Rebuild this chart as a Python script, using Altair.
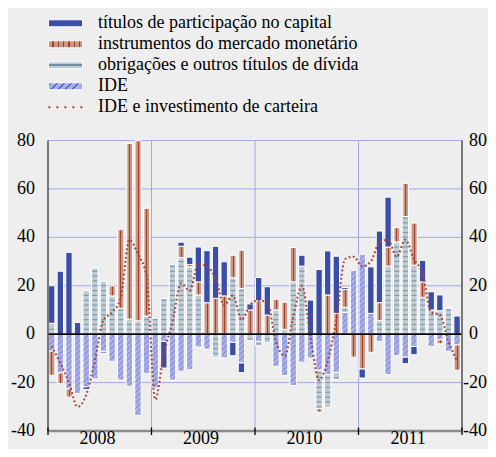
import math
import altair as alt
import numpy as np
import pandas as pd

# ---------------- data ----------------
years = ["2008", "2009", "2010", "2011"]
series_labels = [
    "títulos de participação no capital",
    "instrumentos do mercado monetário",
    "obrigações e outros títulos de dívida",
    "IDE",
    "IDE e investimento de carteira",
]
series_keys = ["equity", "mm", "bonds", "ide", "line"]

equity = [
    15.5, 26.0, 33.8, 4.8, -1.1, 0, -0.7, 0, 0, 0, 0, 0,
    0, -11.0, 0, 1.7, 3.0, 14.4, 21.5, 21.5, 14.1, -5.5, -4.0, 2.5,
    9.6, 11.7, 0, 0, 0, 4.5, 14.1, 26.7, 18.2, 23.6, 0.8, 0,
    -3.7, 19.2, 29.6, 20.6, 0, -2.7, -3.4, 8.9, 7.5, 6.5, 0, 7.5,
]
mm = [
    -10.0, -4.4, -3.4, 0, 0, 0, 0, 4.1, 32.5, 72.6, 74.4, 44.5,
    0, 0, 0, 4.7, 1.0, 5.4, 13.0, 14.8, 15.8, 9.3, 15.8, 10.0,
    13.8, 7.9, 4.4, 11.2, 14.2, 0, 0, -1.4, 16.2, 8.6, 7.4, -9.5,
    -14.4, -7.5, 7.4, 7.9, 5.9, 13.7, 17.4, 6.4, 0, -1.7, 0, -10.5,
]
bonds = [
    4.5, 0, 0, 0, 18.0, 27.3, 21.9, 15.8, 10.7, 6.2, 5.5, 7.5,
    6.6, 14.8, 28.9, 31.6, 27.8, 16.2, 0, -9.5, 0, 23.3, 18.9, -2.6,
    -1.8, -3.5, 10.0, 2.0, 21.6, 28.1, 0, -15.9, -13.7, -3.0, 2.1, 0,
    0, 0, 5.6, 28.1, 38.1, 48.6, 28.5, 15.2, 10.0, 9.7, 10.7, 0,
]
ide = [
    -7.0, -16.0, -22.6, -24.5, -21.8, -18.5, -7.1, -11.2, -19.0, -21.5, -33.6, -16.3,
    -22.2, -3.0, -19.0, -15.3, -14.7, -5.3, -6.2, 0, -9.8, -3.4, -11.9, 0,
    -3.0, 0, -13.3, -17.1, -21.2, -11.6, -9.9, -14.9, -16.7, -15.8, 9.0, 26.4,
    33.0, 8.6, -3.0, -16.7, -8.9, -9.5, -5.1, 0, -5.1, -2.3, -7.1, -4.4,
]
ide_portfolio = [
    -5, -12, -20, -30, -25, -11, 6, 9, 15, 39, 33, 24,
    -27, -8, 5, 21, 18, 29, 28, 23, 12, 16, 6, 12,
    14, 13, -3, -9, 7, 20, -1, -19, -11, 6, 31, 32,
    28, 30, 38, 39, 32, 39, 31, 25, 9, 8, -3, -11,
]
y_ticks = [-40, -20, 0, 20, 40, 60, 80]

# ---------------- styling / layout ----------------
FONT = "Liberation Serif"
FS = 18
BG = "#eeeeee"
GRID = "#a4a9e2"
C_EQ = "#3a4ea6"
C_MM = "#c99684"
C_MM_LIGHT = "#dcb9ab"
C_MM_LINE = "#a3412f"
C_BD = "#bfccd4"
C_BD_LINE = "#7f9bac"
C_IDE = "#a9aee6"
C_IDE_LINE = "#5262c4"
C_DOT = "#a4433b"

CW, CH = 480, 441                 # whole drawing (page minus its 8px margin)
PLOT_L, PLOT_R = 40.0, 454.0       # plot area in drawing pixels
PLOT_T, PLOT_B = 132.5, 423.0
N = len(equity)
YMIN, YMAX = y_ticks[0], y_ticks[-1]
px_x = (PLOT_R - PLOT_L) / N
px_y = (PLOT_B - PLOT_T) / (YMAX - YMIN)
xsc = alt.Scale(domain=[-PLOT_L / px_x, N + (CW - PLOT_R) / px_x], nice=False, zero=False)
ysc = alt.Scale(domain=[YMIN - (CH - PLOT_B) / px_y, YMAX + PLOT_T / px_y], nice=False, zero=False)


def px2x(p):
    return (p - PLOT_L) / px_x


def px2y(p):
    return YMAX + (PLOT_T - p) / px_y


def X(f):
    return alt.X(f + ":Q", scale=xsc, axis=None)


def Y(f):
    return alt.Y(f + ":Q", scale=ysc, axis=None)


BAR_L, BAR_R = 0.06, 0.80

# ---------------- stacking (IDE, bonds, MM, equity from zero outwards) ----------------
values = {"ide": ide, "bonds": bonds, "mm": mm, "equity": equity}
rows = []
for i in range(N):
    pos = neg = 0.0
    for k in ["ide", "bonds", "mm", "equity"]:
        v = values[k][i]
        if v == 0:
            continue
        if v > 0:
            y0, y1 = pos, pos + v
            pos = y1
        else:
            y0, y1 = neg, neg + v
            neg = y1
        rows.append(dict(series=k, m=i, xa=i + BAR_L, xb=i + BAR_R, y0=y0, y1=y1))
seg = pd.DataFrame(rows)

# texture: horizontal stripes for bonds every 2 units
stripe_rows = []
for r in seg[seg.series == "bonds"].itertuples():
    lo, hi = min(r.y0, r.y1), max(r.y0, r.y1)
    s = math.floor(lo / 2.0) * 2.0 + 2.0
    while s < hi - 0.5:
        if s > lo + 0.5:
            stripe_rows.append(dict(xa=r.xa + 0.07, xb=r.xb - 0.07, ys=s))
        s += 2.0
stripes = pd.DataFrame(stripe_rows)

# texture: diagonal hatch for IDE
SLOPE = px_x / px_y
PER = 2.2
hatch_rows = []
for r in seg[seg.series == "ide"].itertuples():
    lo, hi = min(r.y0, r.y1) + 0.3, max(r.y0, r.y1) - 0.3
    xa, xb = r.xa + 0.07, r.xb - 0.07
    w = xb - xa
    c = math.floor((lo - SLOPE * w) / PER) * PER
    while c < hi:
        t0 = max(0.0, (lo - c) / SLOPE)
        t1 = min(w, (hi - c) / SLOPE)
        if t1 - t0 > 0.02:
            hatch_rows.append(dict(xa=xa + t0, xb=xa + t1, ya=c + SLOPE * t0, yb=c + SLOPE * t1))
        c += PER
hatch = pd.DataFrame(hatch_rows)

line_df = pd.DataFrame({"mx": np.arange(N) + (BAR_L + BAR_R) / 2, "v": ide_portfolio})

# ---------------- frame: grid, axis lines, ticks, labels ----------------
hgrid = pd.DataFrame({"y": [v for v in y_ticks if v not in (YMIN, 0)], "x0": 0, "x1": N})
vgrid = pd.DataFrame({"x": list(range(12, N, 12)), "y0": YMIN, "y1": YMAX})
vaxes = pd.DataFrame({"x": [0, N], "y0": YMIN, "y1": YMAX})
baxis = pd.DataFrame({"y": [YMIN], "x0": 0, "x1": N})
ticks = pd.DataFrame({"x": list(range(0, N + 1, 12)), "y0": px2y(PLOT_B - 3.5), "y1": px2y(PLOT_B + 4.0)})
left_lab = pd.DataFrame({"y": y_ticks, "t": [str(v) for v in y_ticks], "x": px2x(PLOT_L - 13)})
RL = CW - FS - 1.0                                  # left edge of the right-hand digits
right_pos = pd.DataFrame({"y": [v for v in y_ticks if v >= 0], "t": [str(v) for v in y_ticks if v >= 0],
                          "x": px2x(RL)})
right_neg = pd.DataFrame({"y": [v for v in y_ticks if v < 0], "t": [str(v) for v in y_ticks if v < 0],
                          "x": px2x(RL + FS)})
year_lab = pd.DataFrame({"x": [12 * k + 5.75 for k in range(len(years))], "t": years, "y": px2y(CH - 4.8)})

rule = lambda df, **kw: alt.Chart(df).mark_rule(**kw)

layers = [
    rule(hgrid, color=GRID, strokeWidth=1).encode(x=X("x0"), x2="x1:Q", y=Y("y")),
    rule(vgrid, color=GRID, strokeWidth=1).encode(x=X("x"), y=Y("y0"), y2="y1:Q"),
]


def rect_layer(key, **mark):
    return alt.Chart(seg[seg.series == key]).mark_rect(stroke="white", strokeWidth=1, **mark).encode(
        x=X("xa"), x2="xb:Q", y=Y("y0"), y2="y1:Q")


mm_fill = {
    "gradient": "linear", "x1": 0, "y1": 0, "x2": 1, "y2": 0,
    "stops": [
        {"offset": 0.0, "color": C_MM_LIGHT}, {"offset": 0.22, "color": C_MM_LIGHT},
        {"offset": 0.22, "color": C_MM}, {"offset": 0.45, "color": C_MM},
        {"offset": 0.45, "color": C_MM_LINE}, {"offset": 0.62, "color": C_MM_LINE},
        {"offset": 0.62, "color": C_MM}, {"offset": 1.0, "color": C_MM},
    ],
}

layers += [
    rect_layer("ide", fill=C_IDE),
    alt.Chart(hatch).mark_rule(color=C_IDE_LINE, strokeWidth=0.8, opacity=0.75).encode(
        x=X("xa"), x2="xb:Q", y=Y("ya"), y2="yb:Q"),
    rect_layer("bonds", fill=C_BD),
    alt.Chart(stripes).mark_rule(color=C_BD_LINE, strokeWidth=1.2).encode(x=X("xa"), x2="xb:Q", y=Y("ys")),
    rect_layer("mm", fill=mm_fill),
    rect_layer("equity", fill=C_EQ),
    alt.Chart(line_df).mark_line(color=C_DOT, strokeWidth=2.1, strokeDash=[1.8, 2.4], interpolate="monotone").encode(
        x=X("mx"), y=Y("v")),
    rule(pd.DataFrame({"y": [0], "x0": 0, "x1": N}), color="black", strokeWidth=1.6).encode(
        x=X("x0"), x2="x1:Q", y=Y("y")),
    rule(vaxes, color="#5a5a5a", strokeWidth=1.6).encode(x=X("x"), y=Y("y0"), y2="y1:Q"),
    rule(baxis, color="#8c8c8c", strokeWidth=2.5).encode(x=X("x0"), x2="x1:Q", y=Y("y")),
    rule(ticks, color="black", strokeWidth=1.3).encode(x=X("x"), y=Y("y0"), y2="y1:Q"),
    alt.Chart(left_lab).mark_text(align="right", baseline="middle", font=FONT, fontSize=FS, color="black").encode(
        x=X("x"), y=Y("y"), text="t:N"),
    alt.Chart(right_pos).mark_text(align="left", baseline="middle", font=FONT, fontSize=FS, color="black").encode(
        x=X("x"), y=Y("y"), text="t:N"),
    alt.Chart(right_neg).mark_text(align="right", baseline="middle", font=FONT, fontSize=FS, color="black").encode(
        x=X("x"), y=Y("y"), text="t:N"),
    alt.Chart(year_lab).mark_text(align="center", baseline="alphabetic", font=FONT, fontSize=FS, color="black").encode(
        x=X("x"), y=Y("y"), text="t:N"),
]

# ---------------- legend ----------------
ROW0, ROWSTEP = 15.3, 21.0            # drawing pixels of the first row centre and row spacing
SW_L, SW_R, SW_H = PLOT_L + 0.4, PLOT_L + 34.6, 7.0
TXT_L = PLOT_L + 50
leg_rows = []
for j, (lab, key) in enumerate(zip(series_labels, series_keys)):
    yc = ROW0 + ROWSTEP * j
    leg_rows.append(dict(label=lab, key=key, yc=px2y(yc), ya=px2y(yc - SW_H / 2), yb=px2y(yc + SW_H / 2),
                         xa=px2x(SW_L), xb=px2x(SW_R), xt=px2x(TXT_L)))
leg = pd.DataFrame(leg_rows)

k_ide = SW_H / (SW_R - SW_L)
per_t = k_ide / (1 + k_ide ** 2)
ide_stops = [{"offset": 0, "color": C_IDE}]
t = 0.05
while t < 0.96:
    ide_stops += [{"offset": t, "color": C_IDE}, {"offset": t, "color": C_IDE_LINE},
                  {"offset": t + 0.035, "color": C_IDE_LINE}, {"offset": t + 0.035, "color": C_IDE}]
    t += per_t
ide_stops.append({"offset": 1, "color": C_IDE})
ide_leg_fill = {"gradient": "linear", "x1": 0, "y1": 0, "x2": 1, "y2": k_ide, "stops": ide_stops}
mm_stops = [{"offset": 0, "color": C_MM}]
for j in range(6):
    c0 = (4.0 + 5.3 * j) / 34.0
    mm_stops += [{"offset": c0, "color": C_MM}, {"offset": c0, "color": C_MM_LINE},
                 {"offset": c0 + 0.04, "color": C_MM_LINE}, {"offset": c0 + 0.04, "color": C_MM}]
mm_stops.append({"offset": 1, "color": C_MM})
mm_leg_fill = {"gradient": "linear", "x1": 0, "y1": 0, "x2": 1, "y2": 0, "stops": mm_stops}
bd_leg_fill = {"gradient": "linear", "x1": 0, "y1": 0, "x2": 0, "y2": 1, "stops": [
    {"offset": 0, "color": C_BD}, {"offset": 0.38, "color": C_BD},
    {"offset": 0.38, "color": "#6f8c9c"}, {"offset": 0.66, "color": "#6f8c9c"},
    {"offset": 0.66, "color": C_BD}, {"offset": 1, "color": C_BD}]}

for key, fill in [("equity", C_EQ), ("mm", mm_leg_fill), ("bonds", bd_leg_fill), ("ide", ide_leg_fill)]:
    layers.append(alt.Chart(leg[leg.key == key]).mark_rect(fill=fill, stroke="white", strokeWidth=1).encode(
        x=X("xa"), x2="xb:Q", y=Y("ya"), y2="yb:Q"))
layers.append(alt.Chart(leg[leg.key == "line"]).mark_rule(color=C_DOT, strokeWidth=2, strokeDash=[2, 6]).encode(
    x=X("xa"), x2="xb:Q", y=Y("yc")))
layers.append(alt.Chart(leg).mark_text(align="left", baseline="middle", font=FONT, fontSize=FS, color="black").encode(
    x=X("xt"), y=Y("yc"), text="label:N"))

chart = alt.layer(*layers).properties(
    width=CW, height=CH, padding=0, background=BG,
    autosize=alt.AutoSizeParams(type="none"),
).configure_view(stroke=None)

chart.save("out.html", embed_options={"renderer": "svg", "actions": False})
